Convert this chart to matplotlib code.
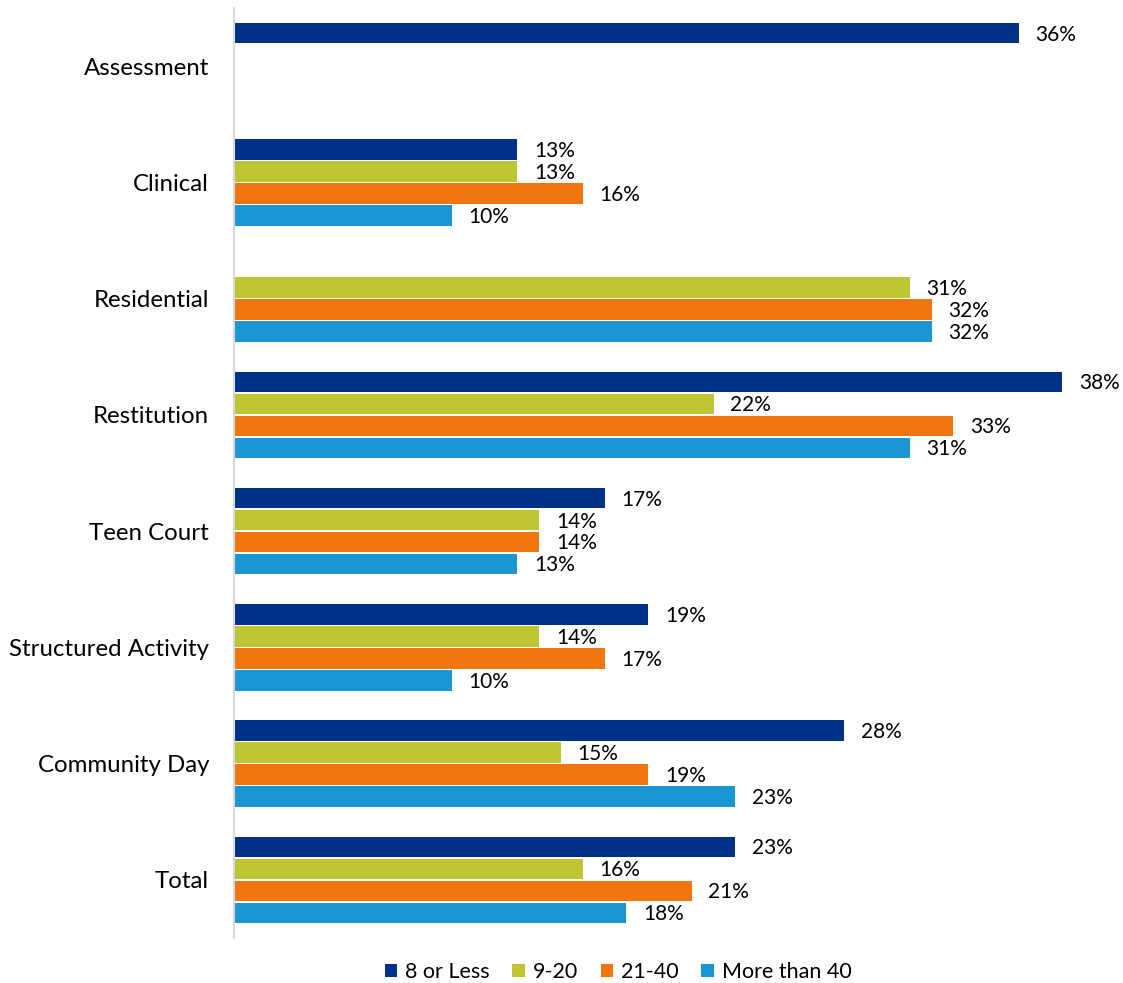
"""Grouped horizontal bars: share by program type and hours group."""
import matplotlib.pyplot as plt
import numpy as np

categories = ["Assessment", "Clinical", "Residential", "Restitution",
              "Teen Court", "Structured Activity", "Community Day", "Total"]
series_names = ["8 or Less", "9-20", "21-40", "More than 40"]
s_8_or_less = [36, 13, None, 38, 17, 19, 28, 23]
s_9_20 = [None, 13, 31, 22, 14, 14, 15, 16]
s_21_40 = [None, 16, 32, 33, 14, 17, 19, 21]
s_more_40 = [None, 10, 32, 31, 13, 10, 23, 18]
colors = ["#003087", "#BDC632", "#F0750F", "#1A96D4"]

plt.rcParams["font.family"] = ["Lato", "DejaVu Sans"]

fig = plt.figure(figsize=(11.23, 9.83), dpi=100)
ax = fig.add_axes([234 / 1123, 1 - 938 / 983, (1106 - 234) / 1123, (938 - 8) / 983])

y = np.arange(len(categories))
pitch = 0.189
for i, (name, vals, col) in enumerate(zip(series_names,
                                          [s_8_or_less, s_9_20, s_21_40, s_more_40],
                                          colors)):
    ypos = y + (i - 1.5) * pitch
    xs = [np.nan if v is None else v for v in vals]
    ax.barh(ypos, xs, height=0.175, color=col, label=name)
    for yy, v in zip(ypos, vals):
        if v is None:
            continue
        ax.annotate(f"{v}%", (v, yy), xytext=(12, -1), textcoords="offset points",
                    va="center", ha="left", fontsize=15, color="#000000")

ax.set_xlim(0, 40)
ax.set_ylim(len(categories) - 0.5, -0.5)
ax.set_yticks(y)
ax.set_yticklabels(categories, fontsize=17.3)
ax.tick_params(axis="y", length=0, pad=18)
ax.set_xticks([])
for s in ["top", "right", "bottom"]:
    ax.spines[s].set_visible(False)
ax.spines["left"].set_color("#D9D9D9")
ax.spines["left"].set_linewidth(1.5)

fig.legend(loc="center", bbox_to_anchor=(618 / 1123, 1 - 972 / 983), ncol=4,
           frameon=False, fontsize=15.5, handlelength=0.6, handleheight=0.6,
           handletextpad=0.35, columnspacing=1.05)

fig.savefig("out.png", dpi=100)
